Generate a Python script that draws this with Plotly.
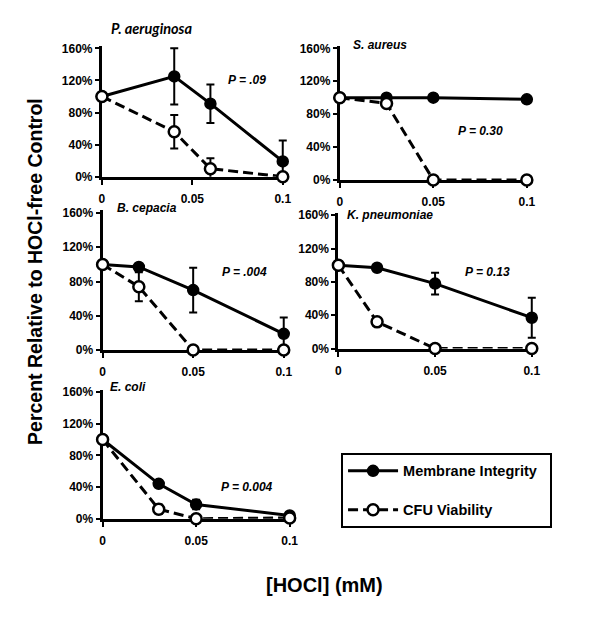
import plotly.graph_objects as go

# ---------------- data ----------------
species = ["P. aeruginosa", "S. aureus", "B. cepacia", "K. pneumoniae", "E. coli"]
p_values = ["P = .09", "P = 0.30", "P = .004", "P = 0.13", "P = 0.004"]

x_pa = [0, 0.04, 0.06, 0.1]
mem_pa = [100, 125, 91, 19]
mem_pa_err = [0, 35, 24, 26]
cfu_pa = [100, 56, 10, 0]
cfu_pa_err = [0, 21, 13, 0]

x_sa = [0, 0.025, 0.05, 0.1]
mem_sa = [100, 100, 100, 98]
mem_sa_err = [0, 0, 0, 0]
cfu_sa = [100, 93, 0, 0]
cfu_sa_err = [0, 0, 0, 0]

x_bc = [0, 0.02, 0.05, 0.1]
mem_bc = [100, 97, 70, 19]
mem_bc_err = [0, 0, 26, 19]
cfu_bc = [100, 74, 0, 0]
cfu_bc_err = [0, 17, 0, 0]

x_kp = [0, 0.02, 0.05, 0.1]
mem_kp = [100, 97, 78, 37]
mem_kp_err = [0, 0, 13, 24]
cfu_kp = [100, 32, 0, 0]
cfu_kp_err = [0, 0, 0, 0]

x_ec = [0, 0.03, 0.05, 0.1]
mem_ec = [100, 44, 18, 4]
mem_ec_err = [0, 4, 6, 2]
cfu_ec = [100, 12, 0, 1]
cfu_ec_err = [0, 6, 0, 0]

x_tickvals = [0, 0.05, 0.1]
x_ticktext = ["0", "0.05", "0.1"]
y_tickvals = [0, 40, 80, 120, 160]
y_ticktext = ["0%", "40%", "80%", "120%", "160%"]

panels = [
    (x_pa, mem_pa, mem_pa_err, cfu_pa, cfu_pa_err),
    (x_sa, mem_sa, mem_sa_err, cfu_sa, cfu_sa_err),
    (x_bc, mem_bc, mem_bc_err, cfu_bc, cfu_bc_err),
    (x_kp, mem_kp, mem_kp_err, cfu_kp, cfu_kp_err),
    (x_ec, mem_ec, mem_ec_err, cfu_ec, cfu_ec_err),
]

# ---------------- layout geometry (page pixels) ----------------
OFF = 8                      # page body margin
W, H = 600 - OFF, 618 - OFF  # figure size so that it fits the window


def px(x):
    return (x - OFF) / W


def py(y):
    return 1 - (y - OFF) / H


# (x of zero, px per 0.1, y of zero, px per 160%)
geom = [
    (100.0, 183.0, 175.7, 130.7),
    (340.7, 189.3, 179.0, 134.0),
    (100.7, 183.3, 352.3, 139.6),
    (339.3, 195.7, 350.7, 135.7),
    (100.7, 189.3, 524.0, 129.0),
]
XMAX, YMAX = 0.1025, 163

label_pos = [(107, 25), (352, 42), (113, 208), (346, 215), (106, 390)]
p_pos = [(247, 77), (483, 129), (244, 273), (490, 273), (247, 492)]

FONT = "Liberation Sans, Arial, sans-serif"

fig = go.Figure()
layout = dict(
    width=W, height=H,
    margin=dict(l=0, r=0, t=0, b=0),
    paper_bgcolor="white", plot_bgcolor="white",
    showlegend=True,
)

annotations = []
for i, (pdata, g) in enumerate(zip(panels, geom)):
    xs, mem, mem_err, cfu, cfu_err = pdata
    x0, sx, y0, sy = g
    n = "" if i == 0 else str(i + 1)
    xa, ya = "x" + n, "y" + n
    fig.add_trace(go.Scatter(
        x=xs, y=mem, xaxis=xa, yaxis=ya, mode="lines+markers",
        name="Membrane Integrity\u00a0\u00a0", legendgroup="mem", showlegend=(i == 0),
        line=dict(color="black", width=3),
        marker=dict(symbol="circle", size=11, color="black",
                    line=dict(color="black", width=1.5)),
        error_y=dict(type="data", array=mem_err, visible=True,
                     color="black", thickness=2, width=4),
        cliponaxis=False,
    ))
    fig.add_trace(go.Scatter(
        x=xs, y=cfu, xaxis=xa, yaxis=ya, mode="lines+markers",
        name="CFU Viability", legendgroup="cfu", showlegend=(i == 0),
        line=dict(color="black", width=3, dash="10px,5px"),
        marker=dict(symbol="circle", size=11, color="white",
                    line=dict(color="black", width=2.5)),
        error_y=dict(type="data", array=cfu_err, visible=True,
                     color="black", thickness=2, width=4),
        cliponaxis=False,
    ))
    xdom = [px(x0), px(x0 + sx * XMAX / 0.1)]
    ydom = [py(y0), py(y0 - sy * YMAX / 160)]
    layout["xaxis" + n] = dict(
        domain=xdom, range=[0, XMAX], anchor=ya,
        tickvals=x_tickvals, ticktext=x_ticktext,
        showline=True, linecolor="black", linewidth=3,
        ticks="outside", ticklen=5, tickwidth=2, tickcolor="black",
        showgrid=False, zeroline=False, layer="below traces",
        ticklabelstandoff=4,
        tickfont=dict(family=FONT, size=12, color="black", weight="bold"),
    )
    layout["yaxis" + n] = dict(
        domain=ydom, range=[0, YMAX], anchor=xa,
        tickvals=y_tickvals, ticktext=y_ticktext,
        showline=True, linecolor="black", linewidth=3,
        ticks="outside", ticklen=4, tickwidth=2, tickcolor="black",
        showgrid=False, zeroline=False, layer="below traces",
        tickfont=dict(family=FONT, size=12, color="black", weight="bold"),
    )
    lx, ly = label_pos[i]
    annotations.append(dict(
        text=species[i], x=px(lx), y=py(ly), xref="paper", yref="paper",
        xanchor="left", yanchor="middle", showarrow=False,
        font=dict(family=("Lato, sans-serif" if i == 0 else FONT),
                  size=(14.5 if i == 0 else 12),
                  color="black", weight="bold", style="italic"),
    ))
    ppx, ppy = p_pos[i]
    annotations.append(dict(
        text=p_values[i], x=px(ppx), y=py(ppy), xref="paper", yref="paper",
        xanchor="center", yanchor="middle", showarrow=False,
        font=dict(family=FONT, size=12, color="black", weight="bold", style="italic"),
    ))

annotations.append(dict(
    text="Percent Relative to HOCl-free Control", x=px(33), y=py(272),
    xref="paper", yref="paper", xanchor="center", yanchor="middle",
    textangle=-90, showarrow=False,
    font=dict(family=FONT, size=19.5, color="black", weight="bold"),
))
annotations.append(dict(
    text="[HOCl] (mM)", x=px(325), y=py(592),
    xref="paper", yref="paper", xanchor="center", yanchor="middle",
    showarrow=False,
    font=dict(family=FONT, size=20, color="black", weight="bold"),
))
layout["annotations"] = annotations

layout["legend"] = dict(
    x=px(342), y=py(457), xanchor="left", yanchor="top",
    bordercolor="black", borderwidth=2, bgcolor="white",
    font=dict(family=FONT, size=14.5, color="black", weight="bold"),
    tracegroupgap=17, itemwidth=50,
)

fig.update_layout(**layout)
fig.write_html("out.html")
